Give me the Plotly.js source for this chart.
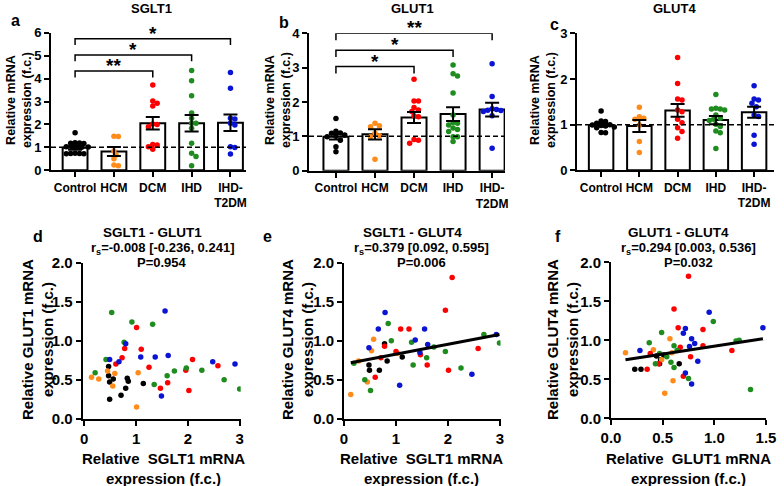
<!DOCTYPE html>
<html>
<head>
<meta charset="utf-8">
<script src="https://cdn.plot.ly/plotly-3.0.1.min.js"></script>
<style>body{margin:0}#chart{width:784px;height:486px}</style>
</head>
<body>
<div id="chart"></div>
<script>
// groups and their dot colours
let groups = ['Control', 'HCM', 'DCM', 'IHD', 'IHD-<br>T2DM'];
let colors = ['#000000', '#ff8c1a', '#ff0000', '#1e8c1e', '#0a14d2'];

// a - SGLT1 (f.c.)
let sglt1Ctrl = [1.64, 1.2, 1.19, 1.18, 1.17, 1.03, 1.02, 1.02, 1.01, 1.0, 0.74, 0.73, 0.73, 0.72, 0.72];
let sglt1Hcm = [1.48, 1.47, 0.84, 0.67, 0.5, 0.23, 0.2];
let sglt1Dcm = [3.72, 3.02, 2.92, 2.8, 2.02, 2.0, 1.9, 1.13, 1.1, 1.03, 0.92];
let sglt1Ihd = [4.35, 3.9, 3.25, 2.5, 2.27, 2.05, 2.05, 1.83, 1.18, 0.74, 0.6, 0.2];
let sglt1T2dm = [4.26, 3.58, 2.27, 2.24, 2.05, 1.98, 1.03, 0.99, 0.71];
let sglt1Mean = [0.98, 0.82, 2.05, 2.05, 2.07];
let sglt1Sem = [0.08, 0.2, 0.27, 0.36, 0.36];
let sglt1Sig = ['**', '*', '*'];
let sglt1SigTo = [2, 3, 4];
let sglt1SigAt = [4.33, 5.03, 5.74];

// b - GLUT1 (f.c.)
let glut1Ctrl = [1.52, 1.15, 1.1, 1.09, 1.04, 1.0, 0.99, 0.89, 0.7, 0.55];
let glut1Hcm = [1.38, 1.31, 1.28, 1.1, 1.02, 0.99, 0.33];
let glut1Dcm = [2.66, 2.03, 2.03, 1.84, 1.77, 1.72, 1.6, 1.57, 0.91, 0.89, 0.8];
let glut1Ihd = [3.08, 2.82, 2.76, 2.26, 1.62, 1.4, 1.38, 1.33, 1.24, 1.2, 1.14, 0.99, 0.99, 0.85];
let glut1T2dm = [3.11, 2.16, 1.8, 1.78, 1.76, 1.75, 1.72, 1.6, 0.65];
let glut1Mean = [0.99, 1.06, 1.55, 1.65, 1.78];
let glut1Sem = [0.08, 0.15, 0.16, 0.2, 0.2];
let glut1Sig = ['*', '*', '**'];
let glut1SigTo = [2, 3, 4];
let glut1SigAt = [3.03, 3.51, 4.0];

// c - GLUT4 (f.c.)
let glut4Ctrl = [1.3, 1.08, 1.07, 1.03, 1.0, 0.99, 0.98, 0.97, 0.95, 0.93, 0.83, 0.82];
let glut4Hcm = [1.38, 1.17, 1.14, 1.12, 0.99, 0.63, 0.39];
let glut4Dcm = [2.47, 1.9, 1.56, 1.54, 1.32, 1.28, 1.12, 1.04, 0.93, 0.85, 0.7];
let glut4Ihd = [1.66, 1.36, 1.34, 1.34, 1.32, 1.21, 1.14, 1.12, 1.09, 1.01, 0.96, 0.86, 0.82, 0.48];
let glut4T2dm = [1.85, 1.56, 1.54, 1.47, 1.39, 1.21, 1.18, 0.77, 0.57];
let glut4Mean = [0.99, 0.97, 1.31, 1.1, 1.27];
let glut4Sem = [0.03, 0.13, 0.14, 0.09, 0.12];

// d - SGLT1 vs GLUT1
let dCtrlX = [0.47, 0.47, 0.49, 0.56, 0.80, 0.83, 0.85, 1.14, 0.71, 0.49];
let dCtrlY = [0.55, 0.67, 0.47, 0.51, 0.39, 0.52, 0.48, 0.45, 0.30, 0.25];
let dHcmX = [0.14, 0.28, 0.45, 0.59, 0.55, 1.04, 1.01];
let dHcmY = [0.53, 0.51, 0.61, 0.58, 0.42, 0.59, 0.15];
let dDcmX = [1.01, 0.78, 1.10, 0.73, 0.61, 1.25, 2.09, 2.58, 1.96, 1.61, 1.47, 2.02];
let dDcmY = [1.17, 0.90, 0.89, 0.78, 0.70, 0.66, 0.76, 0.68, 0.62, 0.46, 0.39, 0.36];
let dIhdX = [0.53, 0.92, 1.32, 0.77, 0.42, 0.21, 1.35, 1.60, 1.74, 1.97, 2.27, 2.70, 3.0];
let dIhdY = [1.36, 1.24, 1.21, 0.98, 0.76, 0.59, 0.44, 0.55, 0.61, 0.65, 0.62, 0.50, 0.38];
let dT2dmX = [1.56, 0.80, 1.09, 1.37, 1.62, 2.48, 2.91, 0.67, 0.49, 1.49];
let dT2dmY = [1.38, 0.96, 0.79, 0.79, 0.81, 0.73, 0.70, 0.73, 0.76, 0.29];

// e - SGLT1 vs GLUT4
let eCtrlX = [0.78, 0.83, 1.12, 0.48, 0.49, 0.68];
let eCtrlY = [0.96, 0.74, 0.79, 0.69, 0.62, 0.62];
let eHcmX = [0.57, 0.53, 0.28, 1.03, 0.45, 0.13];
let eHcmY = [1.02, 0.87, 0.74, 0.84, 0.47, 0.31];
let eDcmX = [2.08, 1.95, 1.09, 1.25, 0.78, 1.00, 0.71, 0.60, 1.47, 1.60, 2.58, 2.01];
let eDcmY = [1.81, 1.39, 1.15, 1.15, 0.93, 0.86, 0.78, 0.53, 0.82, 0.69, 0.90, 0.62];
let eIhdX = [0.85, 0.91, 1.30, 1.73, 2.69, 2.99, 1.95, 1.59, 1.33, 2.25, 0.19, 0.40, 0.51];
let eIhdY = [1.22, 1.00, 0.98, 0.92, 1.08, 0.97, 0.86, 0.78, 0.69, 0.65, 0.71, 0.50, 0.36];
let eT2dmX = [0.79, 0.66, 1.55, 1.37, 1.61, 0.48, 1.46, 2.93, 2.46, 1.07];
let eT2dmY = [1.36, 1.15, 1.15, 1.01, 0.95, 0.91, 0.85, 1.08, 0.57, 0.43];
let eFit = [0.702, 0.126]; // intercept, slope

// f - GLUT1 vs GLUT4
let fCtrlX = [0.23, 0.29, 0.44, 0.48, 0.51, 0.66, 0.47];
let fCtrlY = [0.63, 0.63, 0.80, 0.75, 0.81, 0.70, 0.70];
let fHcmX = [0.14, 0.41, 0.57, 0.59, 0.49, 0.60, 0.52];
let fHcmY = [0.84, 0.88, 1.02, 0.84, 0.75, 0.48, 0.32];
let fDcmX = [0.75, 0.61, 0.65, 0.89, 1.17, 0.89, 0.67, 0.77, 0.38, 0.46, 0.35, 0.70];
let fDcmY = [1.82, 1.40, 1.16, 1.14, 0.87, 0.93, 0.91, 0.79, 0.83, 0.70, 0.63, 0.54];
let fIhdX = [0.99, 0.49, 1.24, 1.21, 0.37, 0.61, 0.64, 0.47, 0.54, 0.58, 0.43, 0.61, 0.75, 1.35];
let fIhdY = [1.24, 1.10, 1.00, 0.99, 0.97, 0.93, 0.87, 0.83, 0.79, 0.72, 0.70, 0.65, 0.51, 0.37];
let fT2dmX = [0.95, 1.47, 0.72, 0.70, 0.78, 0.81, 0.76, 0.28, 0.84, 0.72, 0.78];
let fT2dmY = [1.36, 1.16, 1.15, 1.09, 1.02, 0.96, 0.92, 0.87, 0.73, 0.58, 0.44];
let fFit = [0.722, 0.203];

let W = 784, H = 486;
let FONT = 'Arial, Liberation Sans, sans-serif';
let px = x => x / W;
let py = y => 1 - y / H;

function axisStyle(extra, size) {
  return Object.assign({
    showline: true, linewidth: 2, linecolor: '#000', mirror: false,
    ticks: 'outside', ticklen: 5, tickwidth: 2, tickcolor: '#000',
    showgrid: false, zeroline: false, fixedrange: true,
    tickfont: {family: FONT, size: size, color: '#000', weight: 700}
  }, extra);
}

let layout = {
  width: W, height: H,
  margin: {l: 0, r: 0, t: 0, b: 0},
  paper_bgcolor: '#fff', plot_bgcolor: 'rgba(0,0,0,0)',
  showlegend: false,
  font: {family: FONT, color: '#000'},
  xaxis: axisStyle({domain: [px(51), px(246)], range: [-0.62, 4.4], anchor: 'y', tickvals: [0, 1, 2, 3, 4], ticktext: groups}, 12),
  yaxis: axisStyle({domain: [py(170.3), py(32.7)], range: [0, 6], dtick: 1, anchor: 'x'}, 13),
  xaxis2: axisStyle({domain: [px(309), px(505)], range: [-0.69, 4.33], anchor: 'y2', tickvals: [0, 1, 2, 3, 4], ticktext: groups}, 12),
  yaxis2: axisStyle({domain: [py(170.7), py(33.3)], range: [0, 4], dtick: 1, anchor: 'x2'}, 13),
  xaxis3: axisStyle({domain: [px(577), px(774)], range: [-0.63, 4.52], anchor: 'y3', tickvals: [0, 1, 2, 3, 4], ticktext: groups}, 12),
  yaxis3: axisStyle({domain: [py(170.3), py(33.3)], range: [0, 3], dtick: 1, anchor: 'x3'}, 13),
  xaxis4: axisStyle({domain: [px(82.7), px(240.7)], range: [-0.03, 3.02], dtick: 1, anchor: 'y4'}, 15),
  yaxis4: axisStyle({domain: [py(418.7), py(262.7)], range: [0, 2], dtick: 0.5, tickformat: '.1f', anchor: 'x4'}, 15),
  xaxis5: axisStyle({domain: [px(344), px(500.5)], range: [0, 3.01], dtick: 1, anchor: 'y5'}, 15),
  yaxis5: axisStyle({domain: [py(418.7), py(262.7)], range: [0, 2], dtick: 0.5, tickformat: '.1f', anchor: 'x5'}, 15),
  xaxis6: axisStyle({domain: [px(611), px(766)], range: [0, 1.5], dtick: 0.5, tickformat: '.1f', anchor: 'y6'}, 15),
  yaxis6: axisStyle({domain: [py(418.3), py(262.3)], range: [0, 2], dtick: 0.5, tickformat: '.1f', anchor: 'x6'}, 15),
  shapes: [],
  annotations: []
};

// beeswarm offsets so dots don't overlap inside a bar
function swarm(vals, center, xa, ya) {
  let sx = (xa.domain[1] - xa.domain[0]) * W / (xa.range[1] - xa.range[0]);
  let sy = (ya.domain[1] - ya.domain[0]) * H / (ya.range[1] - ya.range[0]);
  let d = 4.4, placed = [], xs = [];
  let order = vals.map((v, i) => i).sort((i, j) => vals[j] - vals[i]);
  order.forEach(i => {
    let off = 0;
    for (let n = 0; n < 40; n++) {
      off = (n % 2 ? 1 : -1) * Math.ceil(n / 2) * 2.2;
      let hit = placed.some(p => Math.pow(off - p.off, 2) + Math.pow((vals[i] - p.v) * sy, 2) < d * d);
      if (!hit) break;
    }
    placed.push({off: off, v: vals[i]});
    xs[i] = center + off / sx;
  });
  return xs;
}

let data = [];

function barPanel(n, sets, means, sems) {
  let xn = n == 1 ? 'x' : 'x' + n, yn = n == 1 ? 'y' : 'y' + n;
  let xa = layout[n == 1 ? 'xaxis' : 'xaxis' + n], ya = layout[n == 1 ? 'yaxis' : 'yaxis' + n];
  data.push({
    type: 'bar', x: [0, 1, 2, 3, 4], y: means, width: 0.64, xaxis: xn, yaxis: yn,
    marker: {color: '#fff', line: {color: '#000', width: 2}}, hoverinfo: 'skip'
  });
  sets.forEach((vals, g) => {
    data.push({
      type: 'scatter', mode: 'markers', x: swarm(vals, g, xa, ya), y: vals, xaxis: xn, yaxis: yn,
      marker: {color: colors[g], size: 5.5}, hoverinfo: 'skip'
    });
  });
  data.push({
    type: 'scatter', mode: 'markers', x: [0, 1, 2, 3, 4], y: means, xaxis: xn, yaxis: yn,
    marker: {color: 'rgba(0,0,0,0)', size: 1},
    error_y: {type: 'data', array: sems, visible: true, color: '#000', thickness: 2, width: 7},
    hoverinfo: 'skip'
  });
  layout.shapes.push({
    type: 'line', xref: xn, yref: yn, x0: xa.range[0], x1: xa.range[1], y0: 1, y1: 1,
    line: {color: '#000', width: 1.5, dash: '5px,3px'}, layer: 'above'
  });
}

function brackets(n, sig, to, at, tick) {
  let xn = n == 1 ? 'x' : 'x' + n, yn = n == 1 ? 'y' : 'y' + n;
  sig.forEach((s, i) => {
    layout.shapes.push({
      type: 'path', xref: xn, yref: yn, layer: 'above',
      path: 'M0,' + (at[i] - tick) + ' L0,' + at[i] + ' L' + to[i] + ',' + at[i] + ' L' + to[i] + ',' + (at[i] - tick),
      line: {color: '#000', width: 1.5}
    });
    layout.annotations.push({
      xref: xn, yref: yn, x: to[i] / 2, y: at[i], text: s, showarrow: false,
      yanchor: 'bottom', yshift: -7, font: {family: FONT, size: 19, weight: 700, color: '#000'}
    });
  });
}

barPanel(1, [sglt1Ctrl, sglt1Hcm, sglt1Dcm, sglt1Ihd, sglt1T2dm], sglt1Mean, sglt1Sem);
barPanel(2, [glut1Ctrl, glut1Hcm, glut1Dcm, glut1Ihd, glut1T2dm], glut1Mean, glut1Sem);
barPanel(3, [glut4Ctrl, glut4Hcm, glut4Dcm, glut4Ihd, glut4T2dm], glut4Mean, glut4Sem);
brackets(1, sglt1Sig, sglt1SigTo, sglt1SigAt, 0.28);
brackets(2, glut1Sig, glut1SigTo, glut1SigAt, 0.2);

function scatterPanel(n, xs, ys, fit) {
  let xn = 'x' + n, yn = 'y' + n;
  xs.forEach((xv, g) => {
    data.push({
      type: 'scatter', mode: 'markers', x: xv, y: ys[g], xaxis: xn, yaxis: yn,
      marker: {color: colors[g], size: 5.5}, hoverinfo: 'skip'
    });
  });
  if (fit) {
    let all = [].concat.apply([], xs);
    let lo = Math.min.apply(null, all), hi = Math.max.apply(null, all);
    data.push({
      type: 'scatter', mode: 'lines', x: [lo, hi], y: [fit[0] + fit[1] * lo, fit[0] + fit[1] * hi],
      xaxis: xn, yaxis: yn, line: {color: '#000', width: 3}, hoverinfo: 'skip'
    });
  }
}

scatterPanel(4, [dCtrlX, dHcmX, dDcmX, dIhdX, dT2dmX], [dCtrlY, dHcmY, dDcmY, dIhdY, dT2dmY], null);
scatterPanel(5, [eCtrlX, eHcmX, eDcmX, eIhdX, eT2dmX], [eCtrlY, eHcmY, eDcmY, eIhdY, eT2dmY], eFit);
scatterPanel(6, [fCtrlX, fHcmX, fDcmX, fIhdX, fT2dmX], [fCtrlY, fHcmY, fDcmY, fIhdY, fT2dmY], fFit);

// text labels
function label(text, x, y, size, angle) {
  layout.annotations.push({
    xref: 'paper', yref: 'paper', x: px(x), y: py(y), text: text, showarrow: false,
    xanchor: 'center', yanchor: 'middle', textangle: angle || 0,
    font: {family: FONT, size: size, weight: 700, color: '#000'}
  });
}
let yTitleTop = 'Relative mRNA<br>expression (f.c.)';
label('SGLT1', 151, 8, 13); label('a', 15, 20, 16); label(yTitleTop, 19, 100, 12.5, -90);
label('GLUT1', 412, 8, 13); label('b', 284, 23, 16); label(yTitleTop, 278, 100, 12.5, -90);
label('GLUT4', 674, 8, 13); label('c', 554, 24, 16); label(yTitleTop, 543, 100, 12.5, -90);

label('d', 38, 237, 16); label('SGLT1 - GLUT1', 152, 232, 13.5);
label('r<sub>s</sub>=-0.008 [-0.236, 0.241]', 162, 248, 13); label('P=0.954', 162, 262, 13);
label('e', 267, 237, 16); label('SGLT1 - GLUT4', 412, 232, 13.5);
label('r<sub>s</sub>=0.379 [0.092, 0.595]', 422, 248, 13); label('P=0.006', 422, 262, 13);
label('f', 558, 236, 16); label('GLUT1 - GLUT4', 678, 232, 13.5);
label('r<sub>s</sub>=0.294 [0.003, 0.536]', 688, 248, 13); label('P=0.032', 688, 262, 13);

label('Relative GLUT1 mRNA<br>expression (f.c.)', 37, 340, 15, -90);
label('Relative GLUT4 mRNA<br>expression (f.c.)', 297, 340, 15, -90);
label('Relative GLUT4 mRNA<br>expression (f.c.)', 562, 340, 15, -90);
label('Relative\u00a0 SGLT1 mRNA<br>expression (f.c.)', 163, 468, 15);
label('Relative\u00a0 SGLT1 mRNA<br>expression (f.c.)', 422, 468, 15);
label('Relative\u00a0 GLUT1 mRNA<br>expression (f.c.)', 688, 468, 15);

Plotly.newPlot('chart', data, layout, {staticPlot: true});
</script>
</body>
</html>
